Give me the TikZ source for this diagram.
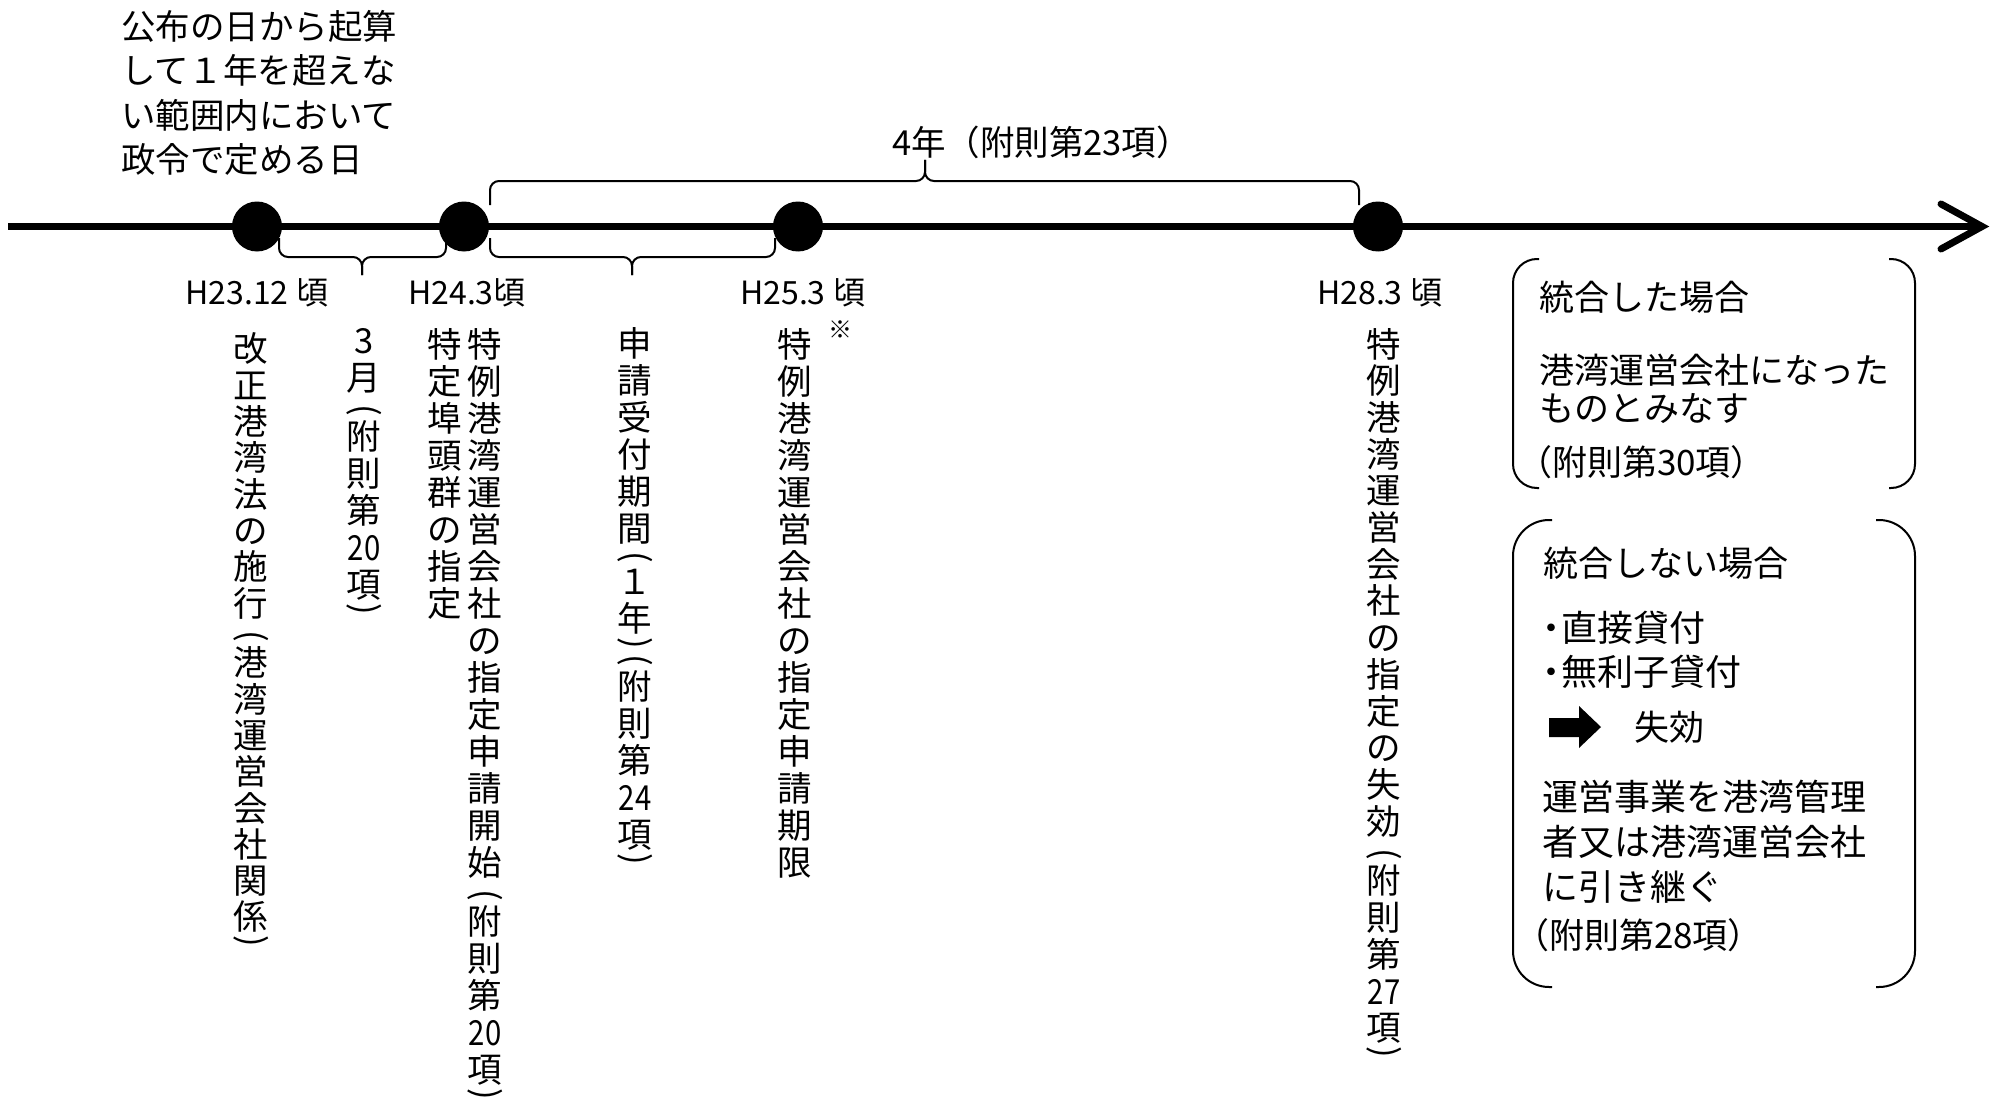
\documentclass[tikz,border=0pt]{standalone}
\usepackage{fontspec}
\usepackage{graphicx}
\usetikzlibrary{calc}
\setmainfont{Noto Sans CJK JP}
\newcommand\tcy[1]{\scalebox{0.85}[1]{#1}}
\begin{document}
\begin{tikzpicture}[x=1pt,y=-1pt,
  every node/.style={inner sep=0pt, outer sep=0pt},
  dot/.style={circle, fill=black, minimum size=50pt},
  vcol/.style={anchor=north, align=center, font=\fontsize{34.5}{#1}\selectfont},
  vcol/.default=37,
  vpar/.style={rotate=-90, anchor=center, font=\fontsize{34.5}{37}\selectfont},
  datelbl/.style={anchor=center, font=\fontsize{32}{36}\selectfont},
  brc/.style={line width=2pt, rounded corners=9pt},
  bracket/.style={line width=2pt},
  txt/.style={anchor=west, align=left, font=\fontsize{35}{38}\selectfont},
  txtb/.style={anchor=west, align=left, font=\fontsize{36}{45}\selectfont},
]
\fill[white] (0,0) rectangle (1995,1105);
\useasboundingbox (0,0) rectangle (1995,1105);

% top-left text
\node[anchor=north west, align=left, font=\fontsize{34.5}{44.5}\selectfont] (intro) at (121,10)
  {公布の日から起算\\して１年を超えな\\い範囲内において\\政令で定める日};

% timeline
\coordinate (tstart) at (8,226.5);
\coordinate (tend) at (1982,226.5);
\draw[line width=7pt] (tstart) -- (tend);
\draw[line width=7pt, line cap=round, line join=miter] (1941,204) -- (tend) -- (1941,249);

\node[dot] (d1) at (257,226.5) {};
\node[dot] (d2) at (464,226.5) {};
\node[dot] (d3) at (798,226.5) {};
\node[dot] (d4) at (1378,226.5) {};

% braces
\draw[brc] (279,238) -- (279,257) -- (362,257) -- (362,275);
\draw[brc] (446,238) -- (446,257) -- (362,257) -- (362,275);
\draw[brc] (490,238) -- (490,257) -- (632,257) -- (632,275);
\draw[brc] (775,238) -- (775,257) -- (632,257) -- (632,275);
\draw[brc] (490,205) -- (490,181) -- (925,181) -- (925,160);
\draw[brc] (1359,205) -- (1359,181) -- (925,181) -- (925,160);

\node[anchor=west, font=\fontsize{34.5}{36}\selectfont] (four) at (892,142) {4年（附則第23項）};

% date labels
\node[datelbl] (l1) at (257,293) {H23.12\hspace{8pt}頃};
\node[datelbl] (l2) at (467,293) {H24.3頃};
\node[datelbl] (l3) at (803,293) {H25.3\hspace{8pt}頃};
\node[datelbl] (l4) at (1380,293) {H28.3\hspace{8pt}頃};

% column A
\node[vcol=36.3] (A1) at (251,333) {改\\正\\港\\湾\\法\\の\\施\\行};
\node[vpar] (A2) at ($(A1.south)+(0,17)$) {(};
\node[vcol=36.3] (A3) at ($(A1.south)+(0,28)$) {港\\湾\\運\\営\\会\\社\\関\\係};
\node[vpar] (A4) at ($(A3.south)+(0,9)$) {)};
% column B
\node[vcol] (B1) at (364,328) {3\\月};
\node[vpar] (B2) at ($(B1.south)+(0,17)$) {(};
\node[vcol] (B3) at ($(B1.south)+(0,28)$) {附\\則\\第\\\tcy{20}\\項};
\node[vpar] (B4) at ($(B3.south)+(0,9)$) {)};
% column C
\node[vcol] (C1) at (445,328) {特\\定\\埠\\頭\\群\\の\\指\\定};
% column D
\node[vcol] (D1) at (485,328) {特\\例\\港\\湾\\運\\営\\会\\社\\の\\指\\定\\申\\請\\開\\始};
\node[vpar] (D2) at ($(D1.south)+(0,17)$) {(};
\node[vcol] (D3) at ($(D1.south)+(0,28)$) {附\\則\\第\\\tcy{20}\\項};
\node[vpar] (D4) at ($(D3.south)+(0,9)$) {)};
% column E
\node[vcol] (E1) at (635,328) {申\\請\\受\\付\\期\\間};
\node[vpar] (E2) at ($(E1.south)+(0,13)$) {(};
\node[vcol] (E3) at ($(E1.south)+(0,24)$) {１\\年};
\node[vpar] (E4) at ($(E3.south)+(0,9)$) {)};
\node[vpar] (E5) at ($(E3.south)+(0,26)$) {(};
\node[vcol] (E6) at ($(E3.south)+(0,37)$) {附\\則\\第\\\tcy{24}\\項};
\node[vpar] (E7) at ($(E6.south)+(0,9)$) {)};
% column F
\node[vcol] (F1) at (795,328) {特\\例\\港\\湾\\運\\営\\会\\社\\の\\指\\定\\申\\請\\期\\限};
\node[font=\fontsize{24}{26}\selectfont] (note) at (840,330) {※};
% column G
\node[vcol=36.7] (G1) at (1384,328) {特\\例\\港\\湾\\運\\営\\会\\社\\の\\指\\定\\の\\失\\効};
\node[vpar] (G2) at ($(G1.south)+(0,17)$) {(};
\node[vcol=36.7] (G3) at ($(G1.south)+(0,28)$) {附\\則\\第\\\tcy{27}\\項};
\node[vpar] (G4) at ($(G3.south)+(0,9)$) {)};

% box 1
\draw[bracket, rounded corners=24pt] (1539,259) -- (1513,259) -- (1513,488) -- (1539,488);
\draw[bracket, rounded corners=24pt] (1889,259) -- (1915,259) -- (1915,488) -- (1889,488);
\node[txt] (b1a) at (1539,297) {統合した場合};
\node[txt] (b1b) at (1539,388.5) {港湾運営会社になった\\ものとみなす};
\node[txt] (b1c) at (1517,462) {（附則第30項）};

% box 2
\draw[bracket, rounded corners=36pt] (1552,520) -- (1513,520) -- (1513,987) -- (1552,987);
\draw[bracket, rounded corners=36pt] (1876,520) -- (1915,520) -- (1915,987) -- (1876,987);
\node[txt] (b2a) at (1543,563) {統合しない場合};
\node[txt, font=\fontsize{36}{44}\selectfont] (b2b) at (1541,650) {\makebox[20pt][c]{・}直接貸付\\\makebox[20pt][c]{・}無利子貸付};
\fill (1549,718) -- (1579,718) -- (1579,706) -- (1601,727) -- (1579,748) -- (1579,737) -- (1549,737) -- cycle;
\node[txt] (b2c) at (1634,727) {失効};
\node[txtb] (b2d) at (1542,842) {運営事業を港湾管理\\者又は港湾運営会社\\に引き継ぐ};
\node[txt] (b2e) at (1514,935) {（附則第28項）};
\end{tikzpicture}
\end{document}
